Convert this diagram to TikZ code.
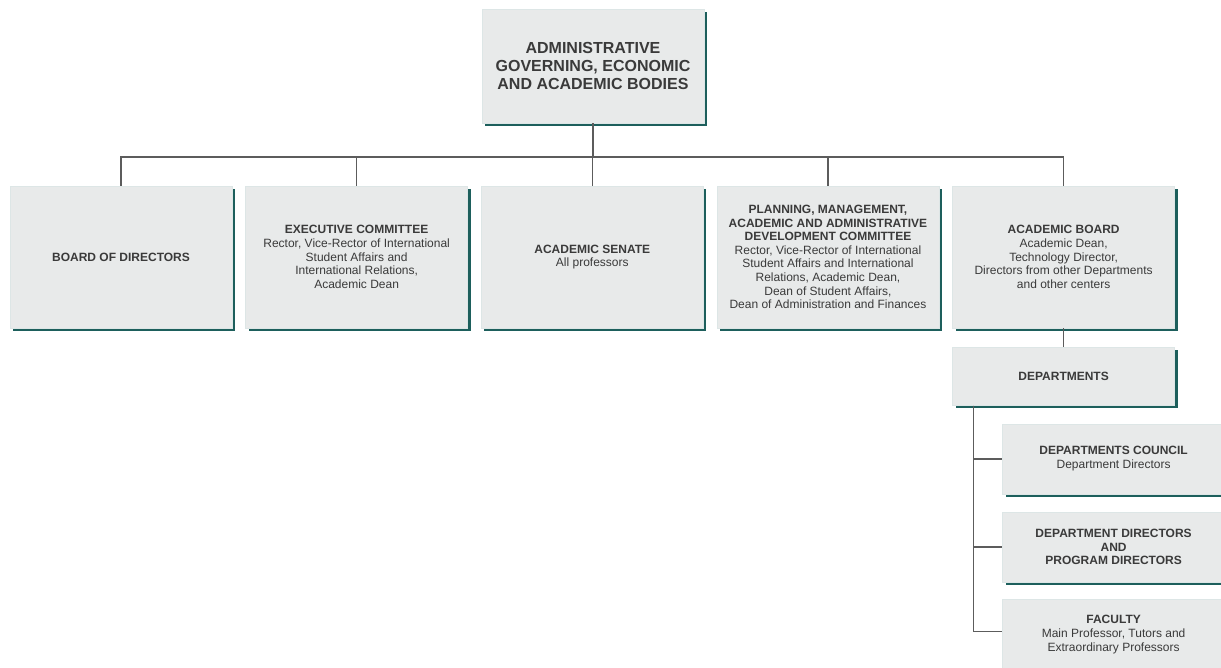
\documentclass[tikz,border=0pt]{standalone}
\usepackage{fontspec}
\setmainfont{Liberation Sans}
\usepackage{xcolor}
\usepackage{tikz}
\usetikzlibrary{positioning}
\usetikzlibrary{shadows}

\definecolor{boxfill}{HTML}{E8EAEA}
\definecolor{boxedge}{HTML}{DDE6E6}
\definecolor{boxshade}{HTML}{1D5F5C}
\definecolor{linegray}{HTML}{5C5C5C}
\definecolor{textgray}{HTML}{3A3A3A}

\tikzset{
	orgbox/.style={draw=boxedge, fill=boxfill, text=textgray, align=center,
		inner sep=2pt, font=\fontsize{12}{13.6}\selectfont,
		drop shadow={shadow xshift=3pt, shadow yshift=-3pt, fill=boxshade, opacity=1}},
	topbox/.style={orgbox, minimum width=222pt, minimum height=114pt,
		font=\fontsize{16}{18}\selectfont\bfseries},
	rowbox/.style={orgbox, minimum width=222pt, minimum height=142pt},
	deptbox/.style={orgbox, minimum width=222pt, minimum height=58pt},
	subbox/.style={orgbox, minimum width=222pt, minimum height=70pt},
	conn/.style={draw=linegray, line width=1.5pt},
}

\begin{document}
\begin{tikzpicture}[x=1pt, y=-1pt]
		
		% ---------------------
		% Proper size --- Bounding box
		\useasboundingbox (0,0) rectangle (1221,668);
		
		% ---------------------
		% Top of the chart
		\node[topbox] (Bodies) at (593,66) {ADMINISTRATIVE\\GOVERNING, ECONOMIC\\AND ACADEMIC BODIES};
		
		% ---------------------
		% First row
		\node[rowbox] (Directors) at (121,257) {\textbf{BOARD OF DIRECTORS}};
		\node[rowbox, right=13.25pt of Directors] (Executive) {\textbf{EXECUTIVE COMMITTEE}\\Rector, Vice-Rector of International\\Student Affairs and\\International Relations,\\Academic Dean};
		\node[rowbox, right=13.25pt of Executive] (Senate) {\textbf{ACADEMIC SENATE}\\All professors};
		\node[rowbox, right=13.25pt of Senate] (Planning) {\textbf{PLANNING, MANAGEMENT,}\\\textbf{ACADEMIC AND ADMINISTRATIVE}\\\textbf{DEVELOPMENT COMMITTEE}\\Rector, Vice-Rector of International\\Student Affairs and International\\Relations, Academic Dean,\\Dean of Student Affairs,\\Dean of Administration and Finances};
		\node[rowbox, right=13.25pt of Planning] (Board) {\textbf{ACADEMIC BOARD}\\Academic Dean,\\Technology Director,\\Directors from other Departments\\and other centers};
		
		% ---------------------
		% Departments branch
		\node[deptbox, below=19pt of Board] (Depts) {\textbf{DEPARTMENTS}};
		\node[subbox, below right=18pt and 50pt of Depts.south west, anchor=north west] (Council) {\textbf{DEPARTMENTS COUNCIL}\\Department Directors};
		\node[subbox, below=18pt of Council] (Program) {\textbf{DEPARTMENT DIRECTORS}\\\textbf{AND}\\\textbf{PROGRAM DIRECTORS}};
		\node[subbox, below=17pt of Program] (Faculty) {\textbf{FACULTY}\\Main Professor, Tutors and\\Extraordinary Professors};
		
		% ---------------------
		% Connectors
		\coordinate (Bus) at (593,157);
		\coordinate (Trunk) at ([xshift=21pt]Depts.south west);
		
		\draw[conn] (Bodies.south) -- (Bus);
		\foreach \target in {Directors, Executive, Senate, Planning, Board}
			\draw[conn] (Bus) -| (\target.north);
		
		\draw[conn] (Board.south) -- (Depts.north);
		\foreach \target in {Council, Program}
			\draw[conn] (Trunk) |- (\target.west);
		\draw[conn] (Trunk) |- ([yshift=3pt]Faculty.west);
		
\end{tikzpicture}
\end{document}
